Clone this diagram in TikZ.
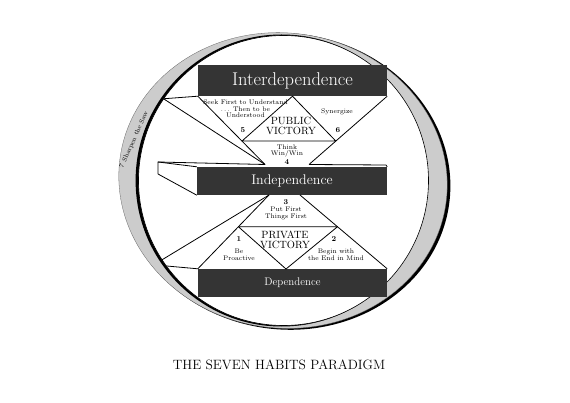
\documentclass[tikz,border=0pt]{standalone}
\usepackage{tikz}
\usetikzlibrary{calc}
\definecolor{barfill}{RGB}{52,52,52}
\definecolor{sawband}{RGB}{204,204,204}
\newcommand{\habitsize}{\fontsize{6.7}{6.6}\selectfont}

\tikzset{
  bar/.style={fill=barfill, text=white, inner sep=0pt},
  habit/.style={font=\habitsize, align=center, inner sep=0pt},
  victory/.style={font=\fontsize{10.5}{10}\selectfont, align=center, inner sep=0pt},
  num/.style={font=\fontsize{7.5}{8}\selectfont\bfseries, inner sep=0pt},
  edge/.style={line width=0.8pt, line join=round}
}

\begin{document}
\begin{tikzpicture}[x=1pt, y=-1pt]
  \useasboundingbox[fill=white] (0,0) rectangle (570,403);
  \coordinate (c) at (283.5,180.5);

  % the saw ring
  \fill[black, shift={(285.2,181.4)}, rotate=-8] (0,0) ellipse [x radius=165.5pt, y radius=148pt];
  \fill[sawband, draw=black!60, line width=0.3pt, shift={(283,180.5)}, rotate=-8]
    (0,0) ellipse [x radius=164.5pt, y radius=147.5pt];
  \fill[black] (281.6,180.5) circle (146pt);
  \fill[white] (c) circle (145pt);
  \draw[line width=0.6pt] (c) circle (145pt);
  \node[font=\fontsize{6.5}{7}\selectfont, inner sep=0pt, rotate=66]
    (saw) at (134,140) {7\enspace Sharpen the Saw};

  % the three levels
  \node[bar, minimum width=189pt, minimum height=31pt, font=\fontsize{18.5}{18}\selectfont]
    (inter) at (292.5,80.5) {Interdependence};
  \node[bar, minimum width=190pt, minimum height=28pt, font=\fontsize{14}{14}\selectfont]
    (indep) at (292,181) {Independence};
  \node[bar, minimum width=189pt, minimum height=28pt, font=\fontsize{11}{11}\selectfont]
    (dep) at (292.5,283) {Dependence};

  \coordinate (vl) at (265,164.5);
  \coordinate (vr) at (309,164.5);
  \coordinate (al) at (269,195);
  \coordinate (ar) at (300,195);
  \coordinate (indback) at (158,162);

  % edges running out to the circle
  \begin{scope}
    \clip (c) circle (145pt);
    \draw[edge] (inter.south west) -- ++(-40,3);
    \draw[edge] (dep.north west) -- ++(-40,-3.6);
    \draw[edge] (vl) -- ($(vl)!1.6!(167,101)$);
    \draw[edge] (al) -- ($(al)!1.6!(165,258)$);
  \end{scope}

  % independence block in depth
  \draw[edge] (vl) -- (indback) -- (158,174) -- (indep.south west);
  \draw[edge] (indback) -- (indep.north west);
  \draw[edge] (vr) -- (386,165) -- (indep.north east);

  % public victory
  \draw[edge] (inter.south west) -- (vl);
  \draw[edge] (inter.south east) -- (vr);
  \coordinate (publ) at ($(inter.south west)!.657!(vl)$);
  \coordinate (pubr) at ($(inter.south east)!.657!(vr)$);
  \draw[edge] (publ) -- (inter.south) -- (pubr) -- cycle;

  % private victory
  \draw[edge] (al) -- (dep.north west);
  \draw[edge] (ar) -- (dep.north east);
  \coordinate (privl) at ($(al)!.43!(dep.north west)$);
  \coordinate (privr) at ($(ar)!.43!(dep.north east)$);
  \coordinate (privapex) at (286,269);
  \draw[edge] (privl) -- (privr) -- (privapex) -- cycle;

  % habits
  \node[habit] (seek) at (245.5,109) {Seek First to Understand\\.\,.\,. Then to be\\Understood};
  \node[num] (h5) at (243,130) {5};
  \node[habit] (syn) at (337,112) {Synergize};
  \node[num] (h6) at (338,130) {6};
  \node[victory] (public) at (291,125.5) {PUBLIC\\VICTORY};
  \node[habit] (think) at (287,151) {Think\\Win/Win};
  \node[num] (h4) at (287,162) {4};

  \node[num] (h3) at (286,202) {3};
  \node[habit] (putfirst) at (286,213.5) {Put First\\Things First};
  \node[victory] (private) at (285,240) {PRIVATE\\VICTORY};
  \node[num] (h1) at (239,239) {1};
  \node[habit] (proactive) at (239,254.5) {Be\\Proactive};
  \node[num] (h2) at (334,239) {2};
  \node[habit] (endmind) at (336,254.5) {Begin with\\the End in Mind};

  \node[font=\fontsize{13.5}{14}\selectfont] (title) at (279,365) {THE SEVEN HABITS PARADIGM};
\end{tikzpicture}
\end{document}
